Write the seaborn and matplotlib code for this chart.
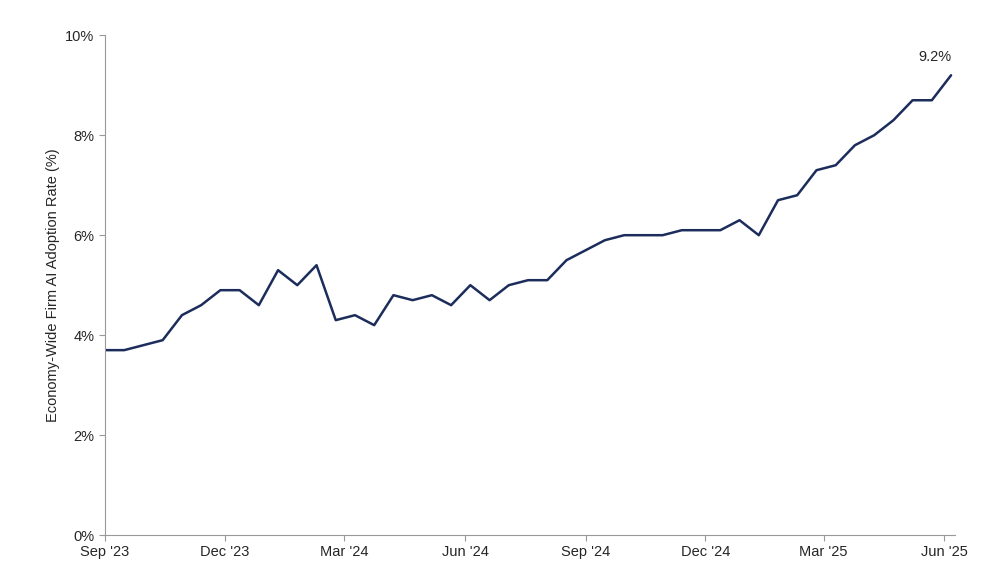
import numpy as np
import pandas as pd
import seaborn as sns
import matplotlib.pyplot as plt

# roughly biweekly survey readings, Sep 2023 - Jun 2025
start_date = "2023-09-01"
end_date = "2025-06-06"
adoption_rate = [3.7, 3.7, 3.8, 3.9, 4.4, 4.6, 4.9, 4.9, 4.6, 5.3, 5.0, 5.4,
                 4.3, 4.4, 4.2, 4.8, 4.7, 4.8, 4.6, 5.0, 4.7, 5.0, 5.1, 5.1,
                 5.5, 5.7, 5.9, 6.0, 6.0, 6.0, 6.1, 6.1, 6.1, 6.3, 6.0, 6.7,
                 6.8, 7.3, 7.4, 7.8, 8.0, 8.3, 8.7, 8.7, 9.2]
tick_dates = ["2023-09-01", "2023-12-01", "2024-03-01", "2024-06-01",
              "2024-09-01", "2024-12-01", "2025-03-01", "2025-06-01"]
tick_labels = ["Sep '23", "Dec '23", "Mar '24", "Jun '24",
               "Sep '24", "Dec '24", "Mar '25", "Jun '25"]

df = pd.DataFrame({
    "date": pd.date_range(start_date, end_date, periods=len(adoption_rate)),
    "rate": adoption_rate,
})

sns.set_style("white")
plt.rcParams['font.family'] = ['Liberation Sans', 'DejaVu Sans']
fig, ax = plt.subplots(figsize=(10, 5.88), dpi=100)
sns.lineplot(data=df, x="date", y="rate", color="#1c2d5c", linewidth=1.8, ax=ax)

ax.set_ylim(0, 10)
ax.set_yticks(range(0, 11, 2))
ax.set_yticklabels([f"{v}%" for v in range(0, 11, 2)])
ax.set_xticks(pd.to_datetime(tick_dates))
ax.set_xticklabels(tick_labels)
ax.set_xlim(pd.Timestamp(start_date), df["date"].iloc[-1] + pd.Timedelta(days=3))
ax.set_xlabel("")
ax.set_ylabel("Economy-Wide Firm AI Adoption Rate (%)", fontsize=10.5)
ax.tick_params(axis="both", labelsize=10.5, length=4, direction="out", color="#999999",
               bottom=True, left=True)

for side in ["top", "right"]:
    ax.spines[side].set_visible(False)
for side in ["left", "bottom"]:
    ax.spines[side].set_color("#999999")

last = df.iloc[-1]
ax.annotate(f"{last['rate']}%", (last["date"], last["rate"]), xytext=(0, 8),
            textcoords="offset points", ha="right", va="bottom", fontsize=10.5)

fig.subplots_adjust(left=0.105, right=0.955, top=0.94, bottom=0.09)
fig.savefig("out.png")
